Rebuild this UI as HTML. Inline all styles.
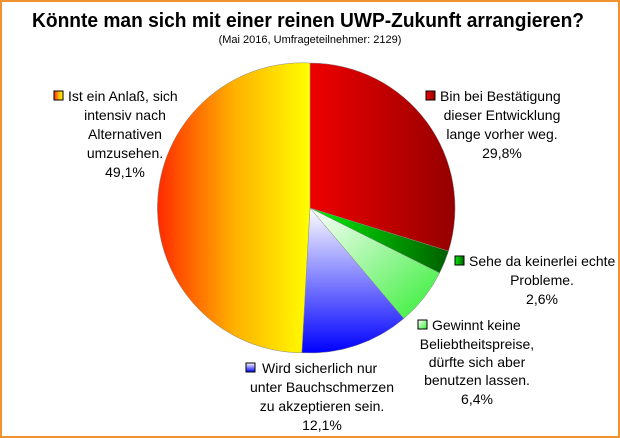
<!DOCTYPE html>
<html><head><meta charset="utf-8"><style>
body{margin:0;width:620px;height:438px;overflow:hidden;background:#fff}
.b{position:absolute;left:0;top:0;width:616px;height:434px;border:2px solid #f0922e}
svg{position:absolute;left:0;top:0}
text{font-family:"Liberation Sans",sans-serif;fill:#000}
</style></head><body><div class="b"></div>
<svg width="620" height="438">
<defs>
<linearGradient id="r" x1="0" y1="0" x2="1" y2="0"><stop offset="0" stop-color="#ee0000"/><stop offset="1" stop-color="#950000"/></linearGradient>
<linearGradient id="g" x1="0" y1="0" x2="1" y2="0"><stop offset="0" stop-color="#00ee00"/><stop offset="1" stop-color="#006000"/></linearGradient>
<linearGradient id="lg" x1="0" y1="0" x2="1" y2="1"><stop offset="0" stop-color="#ffffff"/><stop offset="1" stop-color="#33ee33"/></linearGradient>
<linearGradient id="bl" x1="0" y1="0" x2="0" y2="1"><stop offset="0" stop-color="#ffffff"/><stop offset="1" stop-color="#0000ff"/></linearGradient>
<linearGradient id="y" x1="0" y1="0" x2="1" y2="0"><stop offset="0" stop-color="#ff2a00"/><stop offset="0.5" stop-color="#ffb000"/><stop offset="1" stop-color="#ffff00"/></linearGradient>
</defs>
<text x="32" y="27" textLength="552" lengthAdjust="spacingAndGlyphs" font-size="20" font-weight="bold">Könnte man sich mit einer reinen UWP-Zukunft arrangieren?</text>
<text x="310" y="43" text-anchor="middle" font-size="11">(Mai 2016, Umfrageteilnehmer: 2129)</text>
<g stroke="#888" stroke-width="0.5">
<path d="M310,208 L310,63 A145,145 0 0 1 448.5,251.1 Z" fill="url(#r)"/>
<path d="M310,208 L448.5,251.1 A145,145 0 0 1 439.6,273 Z" fill="url(#g)"/>
<path d="M310,208 L439.6,273 A145,145 0 0 1 403.8,318.6 Z" fill="url(#lg)"/>
<path d="M310,208 L403.8,318.6 A145,145 0 0 1 301.8,352.8 Z" fill="url(#bl)"/>
<path d="M310,208 L301.8,352.8 A145,145 0 1 1 310,63 Z" fill="url(#y)"/>
</g>
<g font-size="14" text-anchor="middle">
<rect x="54" y="91" width="9" height="9" fill="url(#y)" stroke="#000"/>
<text x="68" y="101" text-anchor="start">Ist ein Anlaß, sich</text><text x="125" y="120">intensiv nach</text><text x="125" y="139">Alternativen</text><text x="125" y="158">umzusehen.</text><text x="125" y="177">49,1%</text>
<rect x="426" y="91" width="9" height="9" fill="url(#r)" stroke="#000"/>
<text x="440" y="101" text-anchor="start">Bin bei Bestätigung</text><text x="502" y="120">dieser Entwicklung</text><text x="502" y="139">lange vorher weg.</text><text x="502" y="158">29,8%</text>
<rect x="455" y="256" width="9" height="9" fill="url(#g)" stroke="#000"/>
<text x="469" y="266" text-anchor="start">Sehe da keinerlei echte</text><text x="542" y="285">Probleme.</text><text x="542" y="304">2,6%</text>
<rect x="418" y="320" width="9" height="9" fill="url(#lg)" stroke="#000"/>
<text x="432" y="330" text-anchor="start">Gewinnt keine</text><text x="477" y="349">Beliebtheitspreise,</text><text x="477" y="367">dürfte sich aber</text><text x="477" y="385">benutzen lassen.</text><text x="477" y="404">6,4%</text>
<rect x="246" y="363" width="9" height="9" fill="url(#bl)" stroke="#000"/>
<text x="262" y="373" text-anchor="start">Wird sicherlich nur</text><text x="322" y="392">unter Bauchschmerzen</text><text x="322" y="411">zu akzeptieren sein.</text><text x="322" y="430">12,1%</text>
</g>
</svg></body></html>
